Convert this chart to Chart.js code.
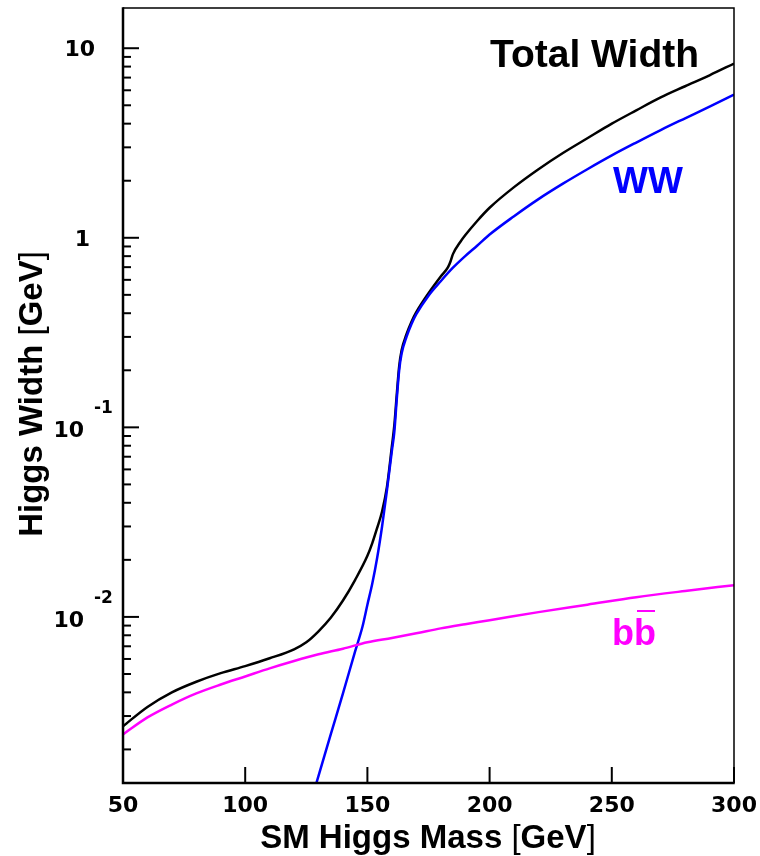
<!DOCTYPE html>
<html lang="en">
<head>
    <meta charset="UTF-8">
    <title>SM Higgs Total Width</title>
    <script src="https://cdn.jsdelivr.net/npm/chart.js"></script>
    <style>
        html, body { margin: 0; padding: 0; background: #fff; }
        canvas { display: block; }
    </style>
</head>
<body>
    <canvas id="widthChart" width="760" height="856"></canvas>

    <script>
        // Higgs mass points [GeV] and partial / total widths [GeV]
        const massTotal = [50, 60, 70, 80, 90, 100, 110, 120, 125, 130, 135, 140, 145, 150,
            152, 154, 156, 158, 160, 161, 162, 163, 164, 166, 168, 170, 175, 180, 183, 184, 185,
            188, 190, 195, 200, 210, 220, 230, 240, 250, 260, 270, 280, 290, 300];
        const widthTotal = [2.65e-3, 3.35e-3, 4.0e-3, 4.55e-3, 5.05e-3, 5.5e-3, 6.05e-3, 6.75e-3,
            7.35e-3, 8.4e-3, 9.9e-3, 1.22e-2, 1.57e-2, 2.1e-2,
            2.45e-2, 2.95e-2, 3.6e-2, 4.85e-2, 7.9e-2, 0.102, 0.148, 0.21, 0.255, 0.31, 0.36, 0.405,
            0.51, 0.625, 0.70, 0.75, 0.82,
            0.95, 1.03, 1.23, 1.44, 1.85, 2.3, 2.8, 3.35, 4.0, 4.7, 5.5, 6.3, 7.2, 8.3];

        const massWW = [125, 130, 135, 140, 145, 148, 150, 152, 154, 156, 158, 160, 161, 162, 163,
            164, 166, 168, 170, 175, 180, 185, 190, 195, 200, 210, 220, 230, 240, 250,
            260, 270, 280, 290, 300];
        const widthWW = [8.8e-4, 1.45e-3, 2.4e-3, 3.95e-3, 6.6e-3, 8.9e-3, 1.16e-2, 1.5e-2, 2.05e-2,
            3.0e-2, 4.65e-2, 7.5e-2, 9.4e-2, 0.14, 0.2,
            0.245, 0.3, 0.35, 0.395, 0.495, 0.59, 0.695, 0.80, 0.91, 1.04, 1.30, 1.60, 1.93, 2.30, 2.72,
            3.18, 3.70, 4.27, 4.92, 5.7];

        const massBB = [50, 60, 70, 80, 90, 100, 110, 120, 130, 140, 150, 160, 170, 180, 190, 200,
            220, 240, 260, 280, 300];
        const widthBB = [2.4e-3, 2.95e-3, 3.45e-3, 3.95e-3, 4.4e-3, 4.85e-3, 5.35e-3, 5.85e-3,
            6.35e-3, 6.8e-3, 7.35e-3, 7.75e-3, 8.2e-3, 8.7e-3, 9.15e-3, 9.6e-3,
            1.06e-2, 1.16e-2, 1.27e-2, 1.37e-2, 1.47e-2];

        // axis ranges and tick values
        const xTicks = [50, 100, 150, 200, 250, 300];
        const yMajorExp = [-2, -1, 0, 1];
        const xMin = 50, xMax = 300;
        const yMin = 1.33e-3, yMax = 16.3;

        const FONT = '"Liberation Sans", Arial, Helvetica, sans-serif';
        const TICK_FONT = '"DejaVu Sans", sans-serif';

        function toPoints(xs, ys) {
            return xs.map((x, i) => ({ x: x, y: ys[i] }));
        }

        // draw a run of text pieces with their own fonts, starting at x
        function drawPieces(ctx, pieces, x, y, align) {
            let total = 0;
            pieces.forEach(p => { ctx.font = p.font; total += ctx.measureText(p.text).width; });
            let cx = align === 'center' ? x - total / 2 : x;
            ctx.textAlign = 'left';
            pieces.forEach(p => {
                ctx.font = p.font;
                ctx.fillText(p.text, cx, y);
                cx += ctx.measureText(p.text).width;
            });
        }

        // frame, inward ticks, labels and titles drawn over the plot
        const frameAxes = {
            id: 'frameAxes',
            afterDraw(chart) {
                const ctx = chart.ctx;
                const area = chart.chartArea;
                const xs = chart.scales.x, ys = chart.scales.y;
                ctx.save();
                ctx.strokeStyle = '#000';
                ctx.fillStyle = '#000';
                ctx.lineCap = 'butt';

                // top / right edges
                ctx.lineWidth = 1.5;
                ctx.beginPath();
                ctx.moveTo(area.left, area.top);
                ctx.lineTo(area.right, area.top);
                ctx.lineTo(area.right, area.bottom);
                ctx.stroke();

                // left / bottom axes
                ctx.lineWidth = 2.5;
                ctx.beginPath();
                ctx.moveTo(area.left, area.top - 0.75);
                ctx.lineTo(area.left, area.bottom);
                ctx.lineTo(area.right + 0.75, area.bottom);
                ctx.stroke();

                // x ticks and labels
                ctx.lineWidth = 2;
                ctx.textAlign = 'center';
                ctx.textBaseline = 'alphabetic';
                ctx.font = 'bold 22px ' + TICK_FONT;
                xTicks.forEach(v => {
                    const px = xs.getPixelForValue(v);
                    ctx.beginPath();
                    ctx.moveTo(px, area.bottom);
                    ctx.lineTo(px, area.bottom - 16);
                    ctx.stroke();
                    ctx.fillText(String(v), px, 812);
                });

                // y ticks: major at each decade, minor at 2..9
                for (let e = -3; e <= 1; e++) {
                    for (let k = 1; k <= 9; k++) {
                        const v = k * Math.pow(10, e);
                        if (v < yMin || v > yMax) continue;
                        const py = ys.getPixelForValue(v);
                        ctx.beginPath();
                        ctx.moveTo(area.left, py);
                        ctx.lineTo(area.left + (k === 1 ? 16 : 8), py);
                        ctx.stroke();
                    }
                }

                // y decade labels
                yMajorExp.forEach(e => {
                    const py = ys.getPixelForValue(Math.pow(10, e));
                    ctx.font = 'bold 22px ' + TICK_FONT;
                    if (e === 1) {
                        ctx.textAlign = 'right';
                        ctx.fillText('10', 95, py + 8);
                    } else if (e === 0) {
                        ctx.textAlign = 'right';
                        ctx.fillText('1', 90, py + 8);
                    } else {
                        ctx.textAlign = 'right';
                        ctx.fillText('10', 84, py + 10);
                        ctx.textAlign = 'left';
                        ctx.font = 'bold 17px ' + TICK_FONT;
                        ctx.fillText(String(e), 94, py - 14);
                    }
                });

                // axis titles
                const bold = 'bold 33px ' + FONT;
                const thin = '33px ' + FONT;
                drawPieces(ctx, [
                    { text: 'SM Higgs Mass ', font: bold },
                    { text: '[', font: thin },
                    { text: 'GeV', font: bold },
                    { text: ']', font: thin }
                ], 428, 848, 'center');

                ctx.save();
                ctx.translate(42, 394);
                ctx.rotate(-Math.PI / 2);
                drawPieces(ctx, [
                    { text: 'Higgs Width ', font: bold },
                    { text: '[', font: thin },
                    { text: 'GeV', font: bold },
                    { text: ']', font: thin }
                ], 0, 0, 'center');
                ctx.restore();

                // curve labels
                ctx.textAlign = 'left';
                ctx.font = 'bold 39px ' + FONT;
                ctx.fillStyle = '#000';
                ctx.fillText('Total Width', 490, 67);

                ctx.font = 'bold 37px ' + FONT;
                ctx.fillStyle = '#0000ff';
                ctx.fillText('WW', 613, 193);

                ctx.font = 'bold 36px ' + FONT;
                ctx.fillStyle = '#ff00ff';
                ctx.strokeStyle = '#ff00ff';
                ctx.fillText('bb', 612, 645);
                const wb = ctx.measureText('b').width;
                ctx.lineWidth = 2;
                ctx.beginPath();
                ctx.moveTo(612 + wb + 3, 611);
                ctx.lineTo(612 + 2 * wb - 1, 611);
                ctx.stroke();

                ctx.restore();
            }
        };

        const lineStyle = {
            fill: false,
            pointRadius: 0,
            borderWidth: 2.5,
            cubicInterpolationMode: 'monotone',
            clip: 0
        };

        const widthChart = new Chart(document.getElementById('widthChart'), {
            type: 'line',
            data: {
                datasets: [
                    Object.assign({ label: 'bb', data: toPoints(massBB, widthBB), borderColor: '#ff00ff' }, lineStyle),
                    Object.assign({ label: 'WW', data: toPoints(massWW, widthWW), borderColor: '#0000ff' }, lineStyle),
                    Object.assign({ label: 'Total Width', data: toPoints(massTotal, widthTotal), borderColor: '#000000' }, lineStyle)
                ]
            },
            options: {
                responsive: false,
                animation: false,
                devicePixelRatio: 1,
                layout: { padding: { left: 123, right: 26, top: 8, bottom: 73 } },
                plugins: {
                    legend: { display: false },
                    tooltip: { enabled: false }
                },
                scales: {
                    x: { type: 'linear', min: xMin, max: xMax, display: false },
                    y: { type: 'logarithmic', min: yMin, max: yMax, display: false }
                }
            },
            plugins: [frameAxes]
        });
    </script>
</body>
</html>
